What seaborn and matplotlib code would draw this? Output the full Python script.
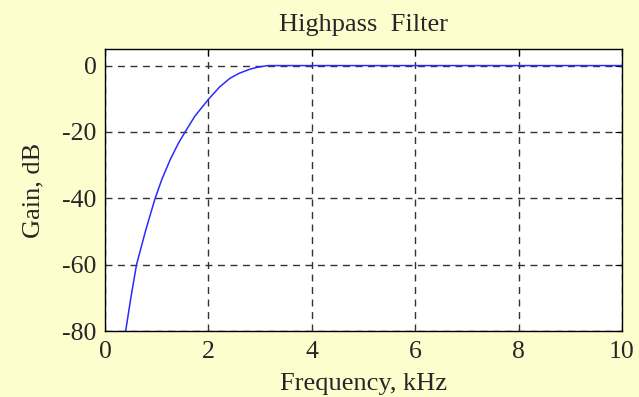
import matplotlib
matplotlib.use("Agg")
import matplotlib.pyplot as plt
import seaborn as sns
import pandas as pd

# Highpass filter magnitude response
freq_khz = [0.40, 0.50, 0.61, 0.79, 0.97, 1.10, 1.26, 1.42, 1.55, 1.74,
            2.01, 2.22, 2.42, 2.60, 2.80, 2.95, 3.15, 4.0, 6.0, 8.0, 10.0]
gain_db = [-80, -70, -60, -49.5, -40, -34.3, -28.4, -23.4, -20, -15.2,
           -10, -6.4, -3.8, -2.3, -1.1, -0.5, 0, 0, 0, 0, 0]
x_ticks = [0, 2, 4, 6, 8, 10]
y_ticks = [-80, -60, -40, -20, 0]

df = pd.DataFrame({"freq": freq_khz, "gain": gain_db})

sns.set_style("white")
plt.rcParams["font.family"] = ["Liberation Serif", "DejaVu Serif"]
plt.rcParams["axes.unicode_minus"] = False

fig = plt.figure(figsize=(6.39, 3.97), dpi=100, facecolor="#FEFDCE")
ax = fig.add_axes([0.1643, 0.1662, 0.8091, 0.7104])
ax.set_facecolor("white")

sns.lineplot(data=df, x="freq", y="gain", ax=ax, color="#2a2aff",
             linewidth=1.1, estimator=None, sort=False)

ax.set_xlim(0, 10)
ax.set_ylim(-80, 5)
ax.set_xticks(x_ticks)
ax.set_yticks(y_ticks)
ax.grid(True, color="#333333", linestyle=(0, (5, 4)), linewidth=1.0)
ax.tick_params(direction="in", length=5, top=True, right=True,
               labelsize=18.5, color="black")
ax.tick_params(axis="x", pad=7.5)
ax.tick_params(axis="y", pad=6)
for s in ax.spines.values():
    s.set_color("black")
    s.set_linewidth(1.0)

ax.set_title("Highpass  Filter", fontsize=19, pad=13)
ax.set_xlabel("Frequency, kHz", fontsize=19, labelpad=7)
ax.set_ylabel("Gain, dB", fontsize=19, labelpad=13)

fig.savefig("out.png", dpi=100, facecolor=fig.get_facecolor())
